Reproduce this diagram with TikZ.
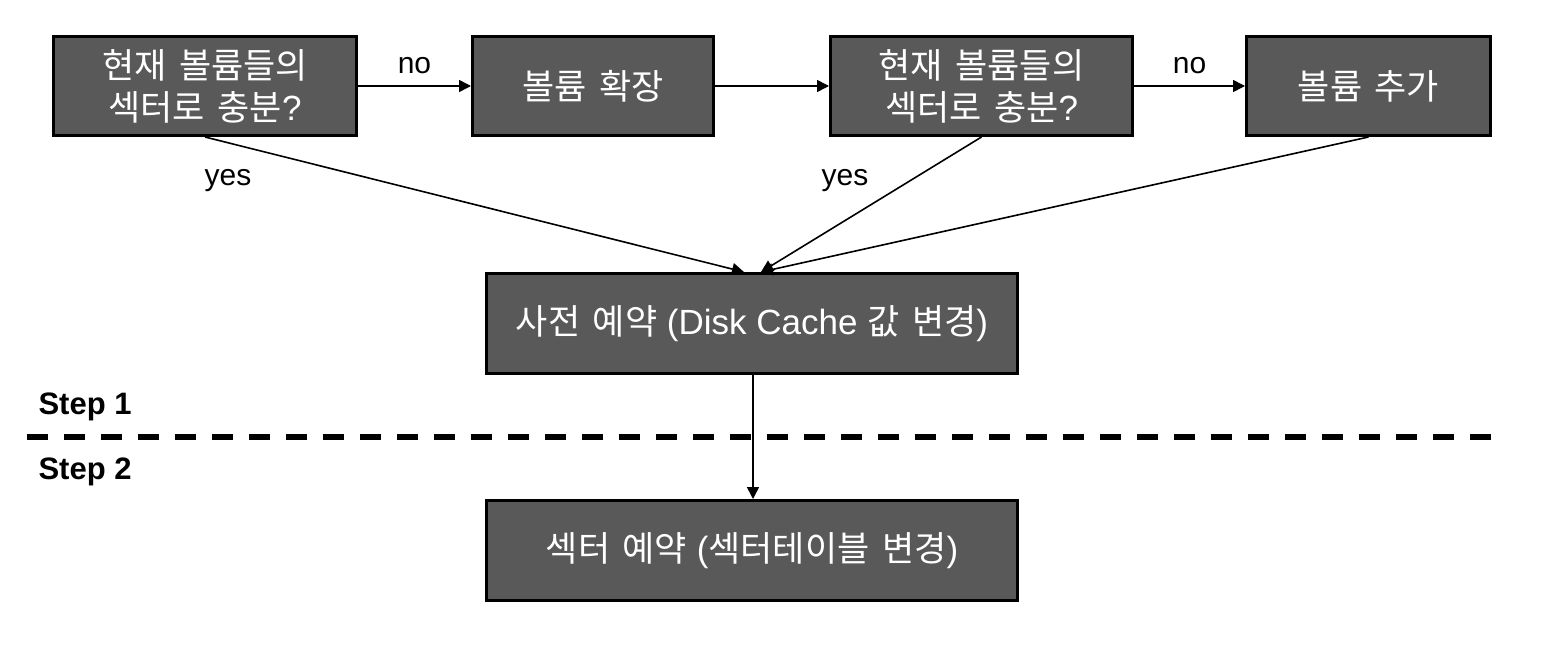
\documentclass[tikz,border=0pt]{standalone}
\usepackage{fontspec}
\setmainfont{Liberation Sans}
\newfontfamily\kr[WordSpace={1.6}]{Noto Sans CJK KR}
\usetikzlibrary{arrows.meta}
\begin{document}
\begin{tikzpicture}[x=1pt,y=-1pt,
  box/.style={draw=black,line width=3pt,fill=black!65,text=white,inner sep=0pt,align=center,font=\fontsize{35}{42}\selectfont},
  conn/.style={line width=1.6pt,-{Triangle[length=12pt,width=12pt]}},
  lbl/.style={font=\fontsize{30}{34}\selectfont},
  steplbl/.style={font=\bfseries\fontsize{31}{36}\selectfont,anchor=west}]
\useasboundingbox[fill=white] (0,0) rectangle (1542,650);
\node[box,minimum width=303pt,minimum height=99pt] (b1) at (205,86) {{\kr 현재 볼륨들의}\\{\kr 섹터로 충분}?};
\node[box,minimum width=241pt,minimum height=99pt] (b2) at (593,86) {\kr 볼륨 확장};
\node[box,minimum width=302pt,minimum height=99pt] (b3) at (981.5,86) {{\kr 현재 볼륨들의}\\{\kr 섹터로 충분}?};
\node[box,minimum width=244pt,minimum height=99pt] (b4) at (1368.5,86) {\kr 볼륨 추가};
\node[box,minimum width=531pt,minimum height=100pt] (b5) at (752,323.5) {{\kr 사전 예약} (Disk Cache {\kr 값 변경})};
\node[box,minimum width=531pt,minimum height=100pt] (b6) at (752,550.5) {{\kr 섹터 예약} ({\kr 섹터테이블 변경})};
\coordinate (t5a) at (744,272);
\coordinate (t5b) at (761,272);
\draw[conn] (b1.east) -- node[lbl,above=8pt] {no} (b2.west);
\draw[conn] (b2.east) -- (b3.west);
\draw[conn] (b3.east) -- node[lbl,above=8pt] {no} (b4.west);
\draw[conn] (b1.south) -- (t5a);
\draw[conn] (b3.south) -- (t5b);
\draw[conn] (b4.south) -- (t5b);
\node[lbl] (y1) at (228,181) {yes};
\node[lbl] (y2) at (845,181) {yes};
\draw[conn] (b5.south -| 753,0) -- (b6.north -| 753,0);
\coordinate (d1) at (27,437);
\coordinate (d2) at (1505,437);
\draw[line width=5.5pt,dash pattern=on 21pt off 16pt] (d1) -- (d2);
\node[steplbl] (s1) at (35,407) {Step 1};
\node[steplbl] (s2) at (35,472) {Step 2};
\end{tikzpicture}
\end{document}
